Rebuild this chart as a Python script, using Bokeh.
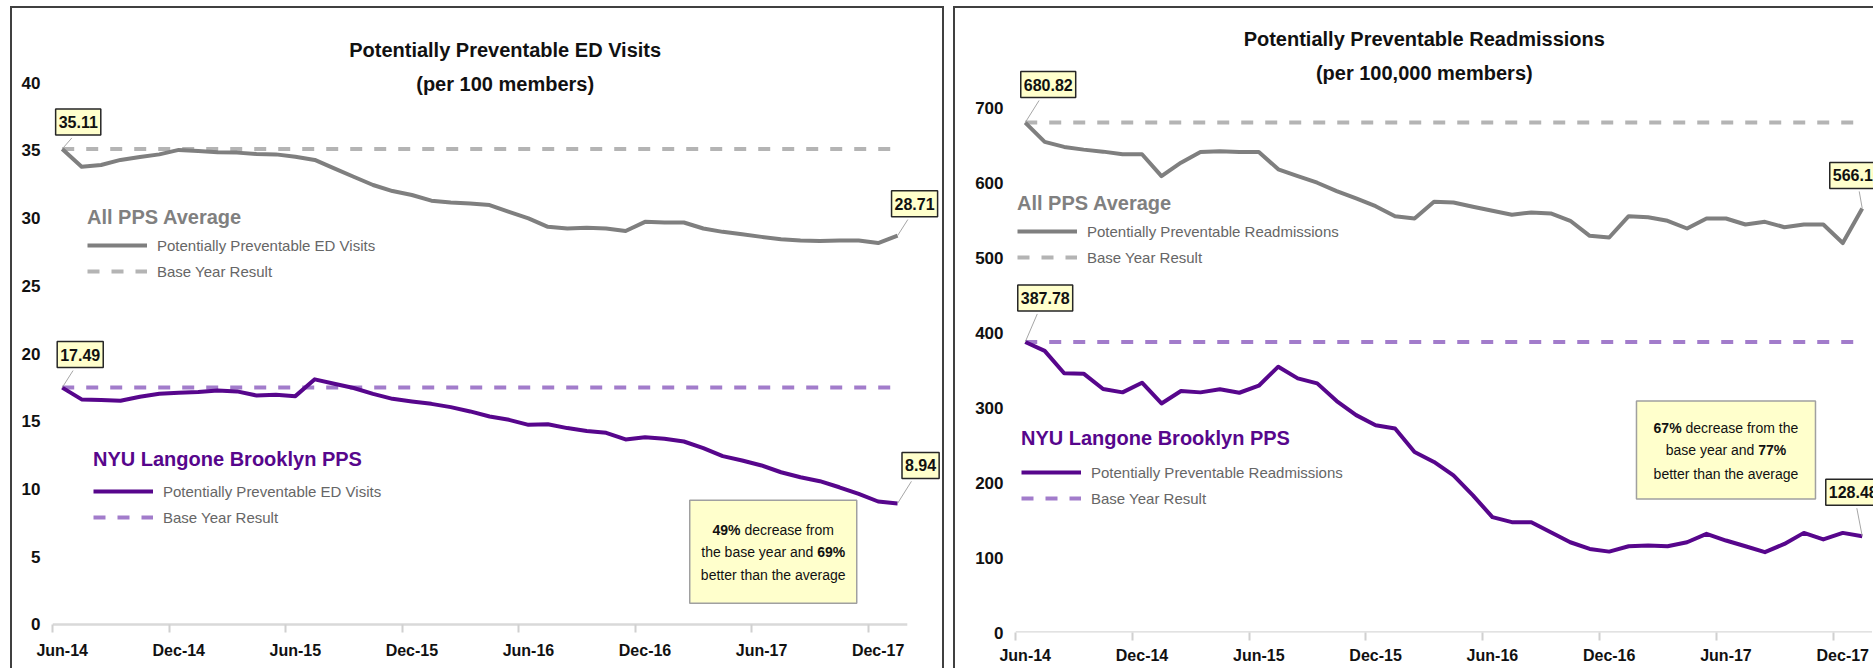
from bokeh.plotting import figure
from bokeh.models import FixedTicker, Legend, LegendItem, Label, Range1d
from bokeh.layouts import row
from bokeh.embed import file_html
from bokeh.resources import INLINE

FONT = "Liberation Sans"

# ---------------- data ----------------
months = ["Jun-14", "Jul-14", "Aug-14", "Sep-14", "Oct-14", "Nov-14", "Dec-14",
          "Jan-15", "Feb-15", "Mar-15", "Apr-15", "May-15", "Jun-15", "Jul-15",
          "Aug-15", "Sep-15", "Oct-15", "Nov-15", "Dec-15",
          "Jan-16", "Feb-16", "Mar-16", "Apr-16", "May-16", "Jun-16", "Jul-16",
          "Aug-16", "Sep-16", "Oct-16", "Nov-16", "Dec-16",
          "Jan-17", "Feb-17", "Mar-17", "Apr-17", "May-17", "Jun-17", "Jul-17",
          "Aug-17", "Sep-17", "Oct-17", "Nov-17", "Dec-17", "Jan-18"]

ed_all = [35.11, 33.80, 33.93, 34.30, 34.52, 34.71, 35.04, 34.96, 34.86, 34.84,
          34.74, 34.71, 34.54, 34.30, 33.68, 33.06, 32.45, 32.00, 31.71, 31.29,
          31.16, 31.09, 30.97, 30.47, 29.98, 29.36, 29.24, 29.29, 29.24, 29.05,
          29.73, 29.68, 29.68, 29.24, 28.99, 28.82, 28.62, 28.45, 28.35, 28.31,
          28.35, 28.35, 28.16, 28.71]
ed_nyu = [17.49, 16.62, 16.57, 16.52, 16.81, 17.03, 17.11, 17.16, 17.28, 17.21,
          16.91, 16.96, 16.86, 18.10, 17.77, 17.46, 17.03, 16.66, 16.47, 16.29,
          16.05, 15.73, 15.36, 15.11, 14.74, 14.79, 14.50, 14.28, 14.15, 13.66,
          13.83, 13.71, 13.51, 13.02, 12.43, 12.11, 11.74, 11.24, 10.87, 10.58,
          10.13, 9.64, 9.08, 8.94]
ed_base_all = 35.11
ed_base_nyu = 17.49

readm_all = [680.82, 655.0, 648.3, 644.7, 642.0, 638.5, 638.5, 609.4, 627.3, 641.6,
             642.5, 641.6, 641.6, 618.4, 609.4, 600.5, 589.4, 579.5, 569.2, 555.8,
             552.7, 575.0, 574.1, 568.4, 563.0, 557.7, 560.8, 559.5, 549.7, 529.6,
             527.4, 555.8, 554.5, 549.7, 539.4, 552.7, 552.7, 544.7, 548.3, 541.1,
             544.7, 544.7, 520.0, 566.16]
readm_nyu = [387.78, 376.0, 346.1, 345.6, 325.1, 320.6, 333.5, 305.8, 322.4, 320.6,
             324.7, 320.1, 329.5, 354.9, 339.3, 332.6, 309.0, 290.2, 276.8, 272.3,
             241.1, 227.7, 209.8, 183.1, 154.0, 147.3, 147.3, 133.9, 120.5, 111.6,
             108.0, 115.2, 116.1, 115.2, 120.5, 131.7, 122.8, 115.2, 107.2, 118.3,
             133.0, 124.2, 133.0, 128.48]
readm_base_all = 680.82
readm_base_nyu = 387.78

ed_y_ticks = [0, 5, 10, 15, 20, 25, 30, 35, 40]
readm_y_ticks = [0, 100, 200, 300, 400, 500, 600, 700]

# ---------------- styles ----------------
GRAY = "#7f7f7f"
GRAY_DASH = "#b4b4b4"
PURPLE = "#57068c"
PURPLE_DASH = "#a27ccb"
YELLOW = "#ffffcc"
LEGEND_TXT = "#666666"
BORDER = "2px solid #404040"

N = len(months)
xs = list(range(N))

# layout constants (pixels)
CANVAS_H = 660          # canvas height (host height minus top border)
FRAME_BOTTOM_GAP = 38   # canvas bottom -> frame bottom


def make_fig(canvas_w, left_gap, px_per_cat, y_lo, y_hi, yticks, css,
             ticks_inward):
    frame_w = canvas_w - left_gap
    x_end = -0.5 + frame_w / px_per_cat
    border_px = 2
    p = figure(width=canvas_w + (4 if "border-right" in css else 2),
               height=CANVAS_H + border_px,
               x_range=Range1d(-0.5, x_end), y_range=Range1d(y_lo, y_hi),
               output_backend="svg", toolbar_location=None, tools="", title=None,
               min_border_left=left_gap, min_border_right=0,
               min_border_top=0, min_border_bottom=FRAME_BOTTOM_GAP)
    p.styles = css
    p.outline_line_color = None
    p.grid.visible = False
    p.background_fill_color = "white"
    p.border_fill_color = "white"

    # category axis line (Jun-14 .. Jan-18 band)
    p.line([-0.5, N - 0.5], [0, 0], line_color="#d9d9d9", line_width=2.5)

    xa = p.xaxis[0]
    xa.ticker = FixedTicker(ticks=list(range(0, N, 6)),
                            minor_ticks=[i - 0.5 for i in range(0, N, 6)])
    xa.major_label_overrides = {i: months[i] for i in range(0, N, 6)}
    xa.axis_line_color = None
    xa.major_tick_line_color = None
    xa.major_tick_out = 0
    xa.major_tick_in = 0
    xa.minor_tick_line_color = "#d0d0d0"
    xa.minor_tick_line_width = 2
    if ticks_inward:
        xa.minor_tick_out = 0
        xa.minor_tick_in = 8
        xa.major_label_standoff = 9
    else:
        xa.minor_tick_out = 8
        xa.minor_tick_in = 0
        xa.major_label_standoff = 6
    xa.major_label_text_font = FONT
    xa.major_label_text_font_size = "16px"
    xa.major_label_text_font_style = "bold"
    xa.major_label_text_color = "#111111"

    ya = p.yaxis[0]
    ya.ticker = FixedTicker(ticks=yticks)
    ya.axis_line_color = None
    ya.major_tick_line_color = None
    ya.minor_tick_line_color = None
    ya.major_tick_out = 0
    ya.major_tick_in = 0
    ya.major_label_text_font = FONT
    ya.major_label_text_font_size = "17px"
    ya.major_label_text_font_style = "bold"
    ya.major_label_text_color = "#111111"
    ya.major_label_standoff = 12
    return p


def add_series(p, vals, base, color, dash_color):
    r_base = p.line([0, N - 1], [base, base], line_color=dash_color, line_width=4,
                    line_dash="12 12")
    r_line = p.line(xs, vals, line_color=color, line_width=4, line_join="round")
    return r_line, r_base


def add_legend(p, title, title_color, label, r_line, r_base, loc, standoff):
    leg = Legend(items=[LegendItem(label=label, renderers=[r_line]),
                        LegendItem(label="Base Year Result", renderers=[r_base])],
                 location=loc, title=title,
                 title_text_font=FONT, title_text_font_size="20px",
                 title_text_font_style="bold", title_text_color=title_color,
                 title_standoff=standoff,
                 label_text_font=FONT, label_text_font_size="15px",
                 label_text_color=LEGEND_TXT,
                 glyph_width=60, glyph_height=20, label_height=20,
                 label_standoff=10, spacing=6, padding=0, margin=0,
                 border_line_color=None, background_fill_alpha=0)
    p.add_layout(leg)


def add_value_label(p, x, y, text, dx, dy, pxx, pxy):
    lx = dx * 0.6
    ly = dy - 16
    p.segment(x0=[x], y0=[y], x1=[x + lx / pxx], y1=[y + ly / pxy],
              line_color="#a6a6a6", line_width=1)
    p.add_layout(Label(x=x, y=y, x_offset=dx, y_offset=dy, text=text,
                       text_font=FONT, text_font_size="16px", text_font_style="bold",
                       text_color="#111111", text_align="center", text_baseline="middle",
                       background_fill_color=YELLOW, border_line_color="#262626",
                       border_line_width=1.5,
                       padding=dict(left=3, right=3, top=7, bottom=7)))


def add_text(p, x, y, text, dx=0, dy=0, size="14px", style="normal", align="center",
             color="#111111"):
    p.add_layout(Label(x=x, y=y, x_offset=dx, y_offset=dy, text=text,
                       text_font=FONT, text_font_size=size, text_font_style=style,
                       text_color=color, text_align=align, text_baseline="middle"))


# ---------------- left panel ----------------
pxx1 = 19.34
pxy1 = 13.5
p1 = make_fig(930, 40, pxx1, -8 / pxy1, 614 / pxy1, ed_y_ticks,
              {"border-top": BORDER, "border-left": BORDER, "border-right": BORDER},
              ticks_inward=True)

ra_line, ra_base = add_series(p1, ed_all, ed_base_all, GRAY, GRAY_DASH)
rn_line, rn_base = add_series(p1, ed_nyu, ed_base_nyu, PURPLE, PURPLE_DASH)
add_legend(p1, "All PPS Average", "#808080", "Potentially Preventable ED Visits",
           ra_line, ra_base, (35, 351), 6)
add_legend(p1, "NYU Langone Brooklyn PPS", PURPLE, "Potentially Preventable ED Visits",
           rn_line, rn_base, (41, 105), 10)

add_text(p1, 22.8, 40, "Potentially Preventable ED Visits", dy=33, size="20px", style="bold")
add_text(p1, 22.8, 40, "(per 100 members)", dy=-1, size="20px", style="bold")

add_value_label(p1, 0, ed_all[0], f"{ed_all[0]:.2f}", 16, 27, pxx1, pxy1)
add_value_label(p1, N - 1, ed_all[-1], f"{ed_all[-1]:.2f}", 17, 32, pxx1, pxy1)
add_value_label(p1, 0, ed_nyu[0], f"{ed_nyu[0]:.2f}", 18, 33, pxx1, pxy1)
add_value_label(p1, N - 1, ed_nyu[-1], f"{ed_nyu[-1]:.2f}", 23, 38, pxx1, pxy1)

cx1, cy1 = 36.6, 5.37
p1.rect(x=[cx1], y=[cy1], width=167, height=103, width_units="screen",
        height_units="screen", fill_color=YELLOW, line_color="#a0a0a0", line_width=1.5)
add_text(p1, cx1, cy1, "49%", dx=-32.7, dy=22, style="bold", align="right")
add_text(p1, cx1, cy1, "decrease from", dx=-28.8, dy=22, align="left")
add_text(p1, cx1, cy1, "the base year and", dx=40.1, dy=0, align="right")
add_text(p1, cx1, cy1, "69%", dx=44.0, dy=0, style="bold", align="left")
add_text(p1, cx1, cy1, "better than the average", dy=-23)

# ---------------- right panel ----------------
pxx2 = 19.42
pxy2 = 0.7466
p2 = make_fig(918, 60, pxx2, 0, 622 / pxy2, readm_y_ticks,
              {"border-top": BORDER, "border-left": BORDER},
              ticks_inward=False)

sa_line, sa_base = add_series(p2, readm_all, readm_base_all, GRAY, GRAY_DASH)
sn_line, sn_base = add_series(p2, readm_nyu, readm_base_nyu, PURPLE, PURPLE_DASH)
add_legend(p2, "All PPS Average", "#808080", "Potentially Preventable Readmissions",
           sa_line, sa_base, (2, 365), 6)
add_legend(p2, "NYU Langone Brooklyn PPS", PURPLE, "Potentially Preventable Readmissions",
           sn_line, sn_base, (6, 124), 12)

add_text(p2, 20.5, 700, "Potentially Preventable Readmissions", dy=69, size="20px", style="bold")
add_text(p2, 20.5, 700, "(per 100,000 members)", dy=35, size="20px", style="bold")

add_value_label(p2, 0, readm_all[0], f"{readm_all[0]:.2f}", 23, 38, pxx2, pxy2)
add_value_label(p2, N - 1, readm_all[-1], f"{readm_all[-1]:.2f}", -5, 33, pxx2, pxy2)
add_value_label(p2, 0, readm_nyu[0], f"{readm_nyu[0]:.2f}", 20, 44, pxx2, pxy2)
add_value_label(p2, N - 1, readm_nyu[-1], f"{readm_nyu[-1]:.2f}", -9, 44, pxx2, pxy2)

cx2, cy2 = 36.0, 243.8
p2.rect(x=[cx2], y=[cy2], width=179, height=98, width_units="screen",
        height_units="screen", fill_color=YELLOW, line_color="#a0a0a0", line_width=1.5)
add_text(p2, cx2, cy2, "67%", dx=-44.4, dy=22, style="bold", align="right")
add_text(p2, cx2, cy2, "decrease from the", dx=-40.5, dy=22, align="left")
add_text(p2, cx2, cy2, "base year and", dx=28.4, dy=0, align="right")
add_text(p2, cx2, cy2, "77%", dx=32.3, dy=0, style="bold", align="left")
add_text(p2, cx2, cy2, "better than the average", dy=-24)

layout = row(p1, p2, spacing=9)
layout.styles = {"margin-left": "10px", "margin-top": "6px"}
open("out.html", "w").write(file_html(layout, INLINE, title="Potentially Preventable"))
